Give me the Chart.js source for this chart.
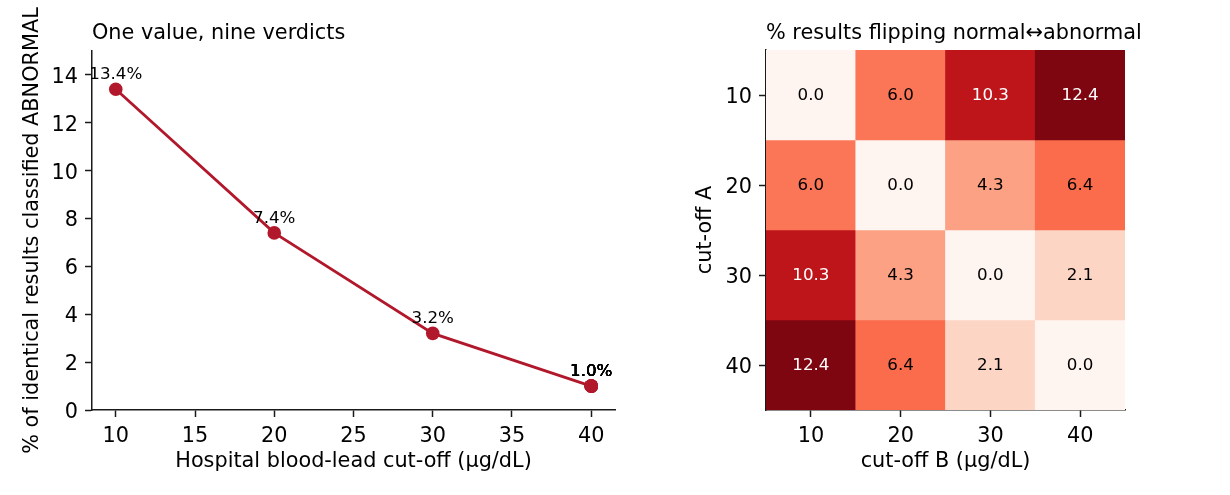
<!DOCTYPE html>
<html><head><meta charset="utf-8">
<script src="https://cdn.jsdelivr.net/npm/chart.js@4/dist/chart.umd.min.js"></script>
<style>
html,body{margin:0;padding:0;background:#fff;width:1230px;height:495px;overflow:hidden}
#c1{position:absolute;left:0;top:0}
#c2{position:absolute;left:640px;top:0}
</style></head><body>
<canvas id="c1" width="640" height="495"></canvas>
<canvas id="c2" width="590" height="495"></canvas>
<script>
// ---- data ----
const cutoffs = [10, 20, 30, 40, 40, 40, 40, 40, 40];
const abnormalPct = [13.4, 7.4, 3.2, 1.0, 1.0, 1.0, 1.0, 1.0, 1.0];
const xTicks = [10, 15, 20, 25, 30, 35, 40];
const yTicks = [0, 2, 4, 6, 8, 10, 12, 14];
const cutA = ['10', '20', '30', '40'];
const cutB = ['10', '20', '30', '40'];
const flip10 = [0.0, 6.0, 10.3, 12.4];
const flip20 = [6.0, 0.0, 4.3, 6.4];
const flip30 = [10.3, 4.3, 0.0, 2.1];
const flip40 = [12.4, 6.4, 2.1, 0.0];
const flipRows = [flip10, flip20, flip30, flip40];

// ---- style ----
const FONT = 'DejaVu Sans';
const big = {family: FONT, size: 20.8};
const bigY = {family: FONT, size: 20.8, lineHeight: '5px'};
const small = 16.7;
const spine = '#1a1a1a';
const red = '#b2182b';
const reds = [[255,245,240],[254,224,210],[252,187,161],[252,146,114],[251,106,74],[239,59,44],[203,24,29],[165,15,21],[103,0,13]];
const vmax = 13;
function redsColor(v) {
  let t = Math.max(0, Math.min(1, v / vmax)) * (reds.length - 1);
  const i = Math.min(reds.length - 2, Math.floor(t)); const f = t - i;
  const c = reds[i].map((a, k) => Math.round(a + (reds[i+1][k] - a) * f));
  return `rgb(${c[0]},${c[1]},${c[2]})`;
}

Chart.defaults.font.family = FONT;
Chart.defaults.color = '#000';

function titlePlugin(text) {
  return { id: 'ttl', afterDraw(chart) {
    const ctx = chart.ctx; ctx.save();
    ctx.font = `${big.size}px "${FONT}"`; ctx.fillStyle = '#000';
    ctx.textAlign = 'left'; ctx.textBaseline = 'alphabetic';
    ctx.fillText(text, chart.chartArea.left, 39);
    ctx.restore();
  }};
}

const pointLabels = { id: 'plab', afterDatasetsDraw(chart) {
  const ctx = chart.ctx; ctx.save();
  ctx.font = `${small}px "${FONT}"`; ctx.fillStyle = '#000';
  ctx.textAlign = 'center'; ctx.textBaseline = 'alphabetic';
  chart.getDatasetMeta(0).data.forEach((p, i) => {
    ctx.fillText(abnormalPct[i].toFixed(1) + '%', p.x, p.y - 10);
  });
  ctx.restore();
}};

const cellLabels = { id: 'clab', afterDatasetsDraw(chart) {
  const ctx = chart.ctx; ctx.save();
  ctx.font = `${small}px "${FONT}"`;
  ctx.textAlign = 'center'; ctx.textBaseline = 'middle';
  flipRows.forEach((row, r) => {
    chart.getDatasetMeta(r).data.forEach((b, j) => {
      const v = row[j];
      ctx.fillStyle = v > 0.6 * vmax ? '#fff' : '#000';
      ctx.fillText(v.toFixed(1), b.x, (b.y + b.base) / 2 + 1);
    });
  });
  ctx.restore();
}};

const tickGrid = {drawOnChartArea: false, tickLength: 7, tickColor: spine, tickWidth: 1.5};
const border = {color: spine, width: 1.5};

new Chart(document.getElementById('c1'), {
  type: 'line',
  data: { datasets: [{
    data: cutoffs.map((x, i) => ({x, y: abnormalPct[i]})),
    borderColor: red, backgroundColor: red, borderWidth: 2.8,
    pointRadius: 6.8, pointBorderWidth: 0, pointHoverRadius: 6.8, tension: 0
  }]},
  options: {
    responsive: false, animation: false, devicePixelRatio: 1,
    events: [],
    layout: {padding: {top: 51, right: 25, left: 0, bottom: 0}},
    plugins: {legend: {display: false}, tooltip: {enabled: false}},
    scales: {
      x: { type: 'linear', min: 8.5, max: 41.5,
        afterBuildTicks: s => { s.ticks = xTicks.map(v => ({value: v})); },
        afterFit: s => { s.height = 85; },
        ticks: {font: big, color: '#000', padding: 7, maxRotation: 0, autoSkip: false},
        grid: tickGrid, border,
        title: {display: true, text: 'Hospital blood-lead cut-off (µg/dL)', font: big, color: '#000', padding: {top: 0, bottom: 21}} },
      y: { type: 'linear', min: 0, max: 15,
        afterBuildTicks: s => { s.ticks = yTicks.map(v => ({value: v})); },
        afterFit: s => { s.width = 92; },
        ticks: {font: bigY, color: '#000', padding: 7, autoSkip: false, callback: v => ['', String(v)]},
        grid: tickGrid, border,
        title: {display: true, text: '% of identical results classified ABNORMAL', font: big, color: '#000', padding: {top: 20.5, bottom: 0}} }
    }
  },
  plugins: [titlePlugin('One value, nine verdicts'), pointLabels]
});

new Chart(document.getElementById('c2'), {
  type: 'bar',
  data: { labels: cutB, datasets: flipRows.map((row, r) => ({
    label: cutA[r], data: row.map(() => 1),
    backgroundColor: row.map(redsColor), borderWidth: 0,
    barPercentage: 1, categoryPercentage: 1
  }))},
  options: {
    responsive: false, animation: false, devicePixelRatio: 1,
    events: [],
    layout: {padding: {top: 50, right: 105, left: 0, bottom: 0}},
    plugins: {legend: {display: false}, tooltip: {enabled: false}},
    scales: {
      x: { type: 'category', stacked: true, z: 1,
        afterFit: s => { s.height = 85; },
        ticks: {font: big, color: '#000', padding: 7, maxRotation: 0, autoSkip: false},
        grid: Object.assign({offset: false}, tickGrid), border,
        title: {display: true, text: 'cut-off B (µg/dL)', font: big, color: '#000', padding: {top: 0, bottom: 21}} },
      y: { type: 'linear', stacked: true, min: 0, max: 4, reverse: true, z: 1,
        afterBuildTicks: s => { s.ticks = cutA.map((_, i) => ({value: i + 0.5})); },
        afterFit: s => { s.width = 126; },
        ticks: {font: bigY, color: '#000', padding: 7, autoSkip: false, callback: (v, i) => ['', cutA[i]]},
        grid: tickGrid, border,
        title: {display: true, text: 'cut-off A', font: big, color: '#000', padding: {top: 53.5, bottom: 0}} }
    }
  },
  plugins: [titlePlugin('% results flipping normal↔abnormal'), cellLabels]
});
</script>
</body></html>
